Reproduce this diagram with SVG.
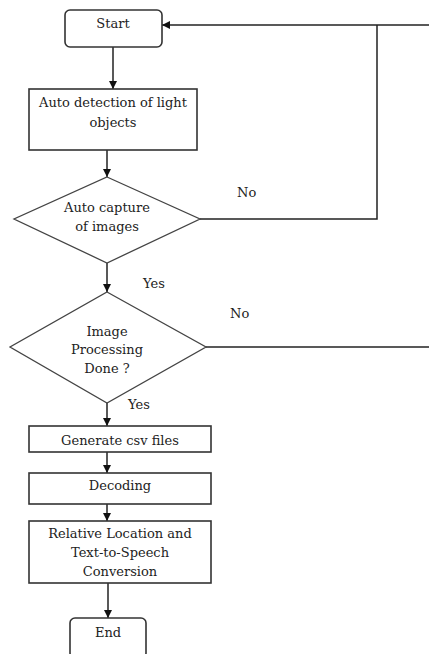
<svg xmlns="http://www.w3.org/2000/svg" width="429" height="654" viewBox="0 0 429 654">
<defs>
<marker id="arr" viewBox="0 0 8 8" refX="8" refY="4" markerWidth="8" markerHeight="8" markerUnits="userSpaceOnUse" orient="auto">
<path d="M0,0 L8,4 L0,8 z" fill="#111"/>
</marker>
</defs>
<style>
.box{fill:#fff;stroke:#333;stroke-width:1.6}
.dia{fill:#fff;stroke:#444;stroke-width:1.3}
.t{font-family:"DejaVu Serif","Liberation Serif",serif;font-size:13px;fill:#222;text-anchor:middle}
.lbl{font-family:"DejaVu Serif","Liberation Serif",serif;font-size:13px;fill:#222}
.c{fill:none;stroke:#222;stroke-width:1.5}
</style>
<rect width="429" height="654" fill="#fff"/>
<g id="connectors">
<line class="c" x1="113" y1="47" x2="113" y2="89" marker-end="url(#arr)"/>
<line class="c" x1="107" y1="150" x2="107" y2="177" marker-end="url(#arr)"/>
<line class="c" x1="107" y1="263" x2="107" y2="292" marker-end="url(#arr)"/>
<polyline class="c" points="200,219 377,219 377,25"/>
<line class="c" x1="429" y1="25" x2="162" y2="25" marker-end="url(#arr)"/>
<line class="c" x1="206" y1="347" x2="429" y2="347"/>
<line class="c" x1="107" y1="403" x2="107" y2="426" marker-end="url(#arr)"/>
<line class="c" x1="107" y1="452" x2="107" y2="473" marker-end="url(#arr)"/>
<line class="c" x1="107" y1="504" x2="107" y2="521" marker-end="url(#arr)"/>
<line class="c" x1="108" y1="583" x2="108" y2="618" marker-end="url(#arr)"/>
<text class="lbl" x="237" y="197">No</text>
<text class="lbl" x="143" y="288">Yes</text>
<text class="lbl" x="230" y="318">No</text>
<text class="lbl" x="128" y="409">Yes</text>
</g>
<g id="start">
<rect class="box" x="65" y="10" width="97" height="37" rx="5"/>
<text class="t" x="113" y="28">Start</text>
</g>
<g id="detect">
<rect class="box" x="29" y="89" width="168" height="61"/>
<text class="t" x="113" y="107">Auto detection of light</text>
<text class="t" x="113" y="127">objects</text>
</g>
<g id="capture">
<polygon class="dia" points="107,177 200,219 107,263 14,219"/>
<text class="t" x="107" y="212">Auto capture</text>
<text class="t" x="107" y="231">of images</text>
</g>
<g id="processing">
<polygon class="dia" points="107,292 206,347 107,403 10,347"/>
<text class="t" x="107" y="336">Image</text>
<text class="t" x="107" y="354">Processing</text>
<text class="t" x="107" y="373">Done ?</text>
</g>
<g id="csv">
<rect class="box" x="29" y="426" width="182" height="26"/>
<text class="t" x="120" y="445">Generate csv files</text>
</g>
<g id="decoding">
<rect class="box" x="29" y="473" width="182" height="31"/>
<text class="t" x="120" y="490">Decoding</text>
</g>
<g id="tts">
<rect class="box" x="29" y="521" width="182" height="62"/>
<text class="t" x="120" y="538">Relative Location and</text>
<text class="t" x="120" y="557">Text-to-Speech</text>
<text class="t" x="120" y="576">Conversion</text>
</g>
<g id="end">
<rect class="box" x="70" y="618" width="76" height="40" rx="5"/>
<text class="t" x="108" y="637">End</text>
</g>
</svg>
